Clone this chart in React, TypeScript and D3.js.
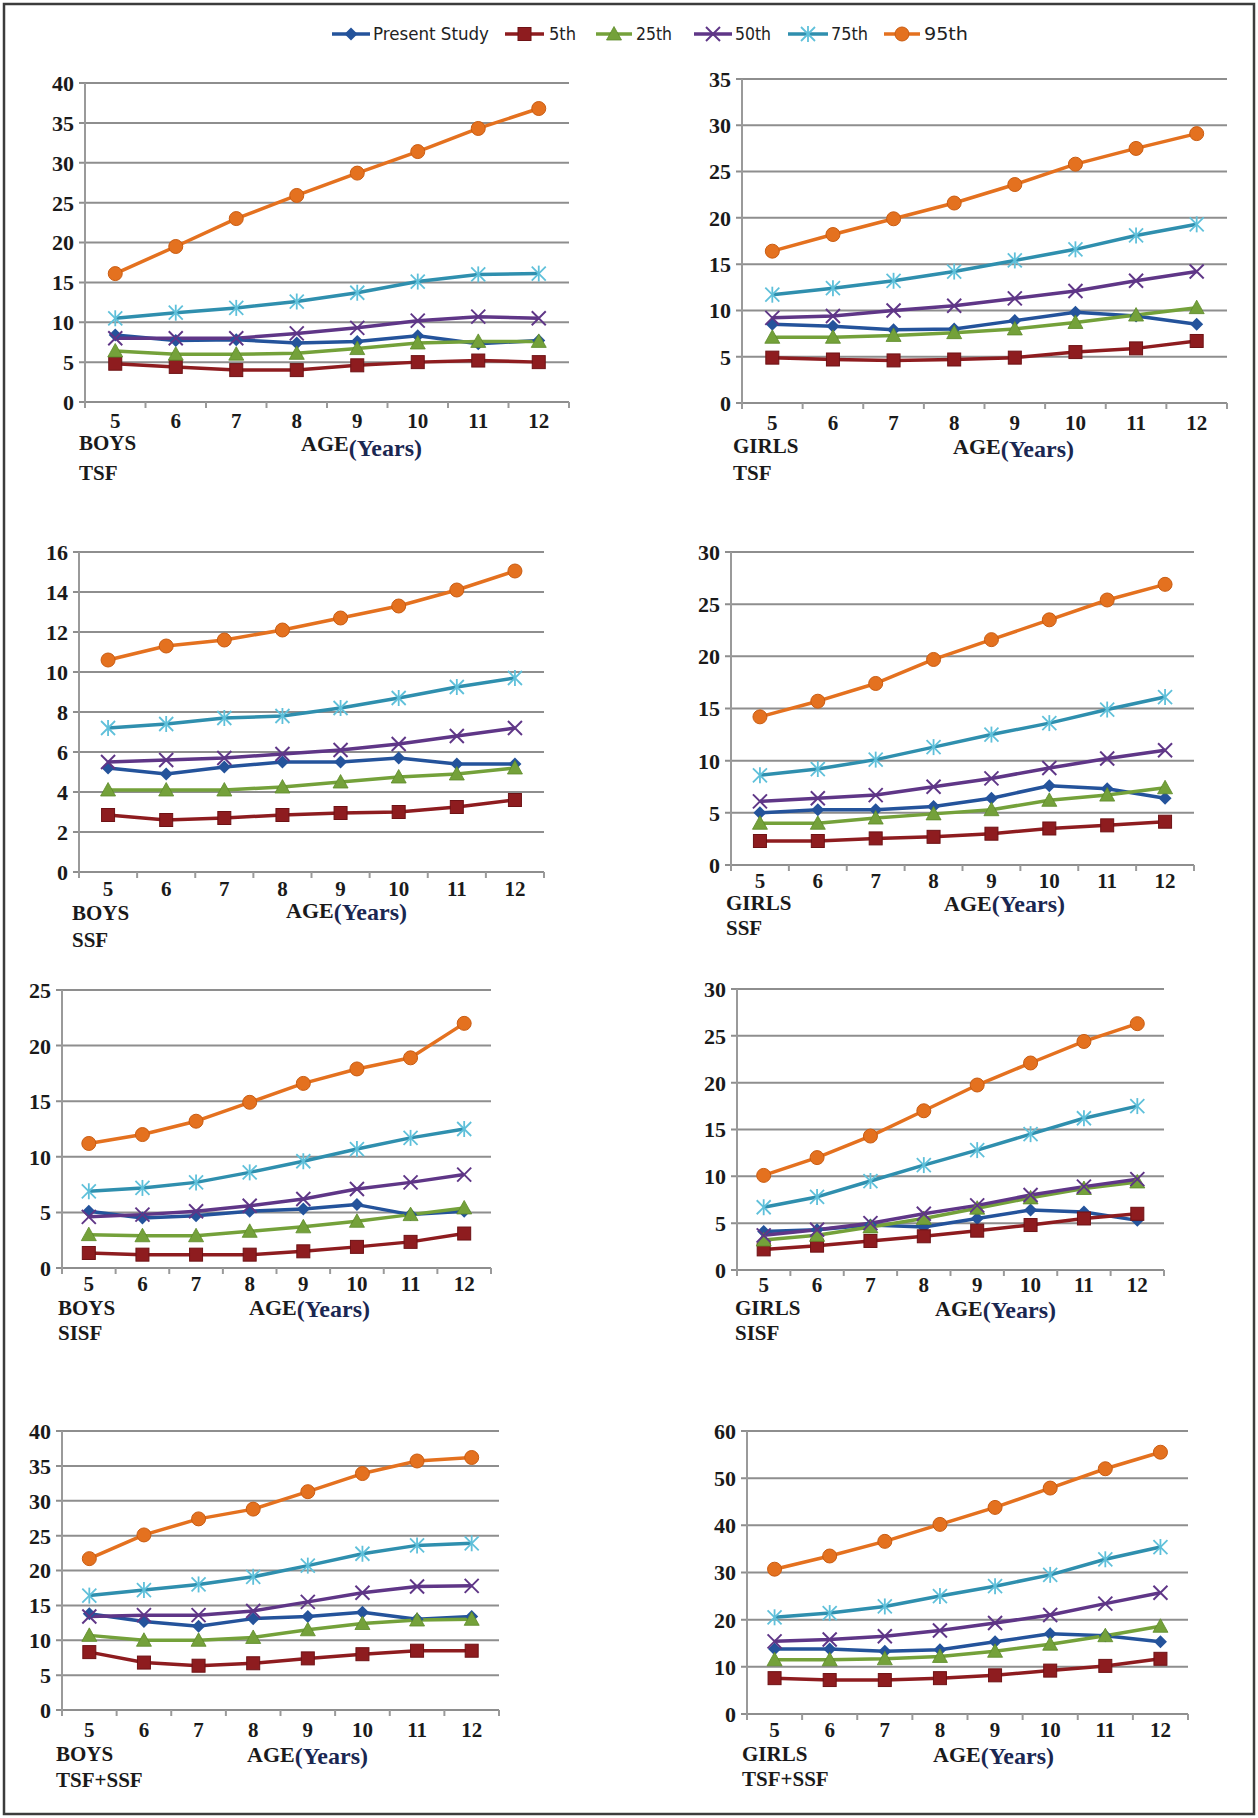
import * as d3 from "d3";

const ages = ["5", "6", "7", "8", "9", "10", "11", "12"];
const seriesNames = ["Present Study", "5th", "25th", "50th", "75th", "95th"];
const seriesColors = ["#24539b", "#8e1c1f", "#74a13a", "#5f3687", "#2f8fae", "#e4711f"];
const markerKinds = ["diamond", "square", "triangle", "cross", "star", "circle"];

// rows follow seriesNames: Present Study, 5th, 25th, 50th, 75th, 95th
const boysTSF = [
  [8.4, 7.7, 7.8, 7.4, 7.6, 8.3, 7.3, 7.7],
  [4.8, 4.4, 4.0, 4.0, 4.6, 5.0, 5.2, 5.0],
  [6.4, 6.0, 6.0, 6.1, 6.7, 7.4, 7.6, 7.6],
  [8.0, 8.0, 8.0, 8.6, 9.3, 10.2, 10.7, 10.5],
  [10.5, 11.2, 11.8, 12.6, 13.7, 15.1, 16.0, 16.1],
  [16.1, 19.5, 23.0, 25.9, 28.7, 31.4, 34.3, 36.8],
];
const girlsTSF = [
  [8.5, 8.3, 7.9, 8.0, 8.9, 9.8, 9.4, 8.5],
  [4.9, 4.7, 4.6, 4.7, 4.9, 5.5, 5.9, 6.7],
  [7.1, 7.1, 7.3, 7.6, 8.0, 8.7, 9.5, 10.3],
  [9.2, 9.4, 10.0, 10.5, 11.3, 12.1, 13.2, 14.2],
  [11.7, 12.4, 13.2, 14.2, 15.4, 16.6, 18.1, 19.3],
  [16.4, 18.2, 19.9, 21.6, 23.6, 25.8, 27.5, 29.1],
];
const boysSSF = [
  [5.2, 4.9, 5.25, 5.5, 5.5, 5.7, 5.4, 5.4],
  [2.85, 2.6, 2.7, 2.85, 2.95, 3.0, 3.25, 3.6],
  [4.1, 4.1, 4.1, 4.25, 4.5, 4.75, 4.9, 5.2],
  [5.5, 5.6, 5.7, 5.9, 6.1, 6.4, 6.8, 7.2],
  [7.2, 7.4, 7.7, 7.8, 8.2, 8.7, 9.25, 9.7],
  [10.6, 11.3, 11.6, 12.1, 12.7, 13.3, 14.1, 15.05],
];
const girlsSSF = [
  [5.0, 5.3, 5.3, 5.6, 6.4, 7.6, 7.3, 6.4],
  [2.3, 2.3, 2.55, 2.7, 3.0, 3.5, 3.8, 4.15],
  [4.0, 4.0, 4.5, 4.9, 5.3, 6.2, 6.7, 7.4],
  [6.1, 6.4, 6.7, 7.5, 8.3, 9.3, 10.2, 11.0],
  [8.6, 9.2, 10.1, 11.3, 12.5, 13.6, 14.9, 16.1],
  [14.2, 15.7, 17.4, 19.7, 21.6, 23.5, 25.4, 26.9],
];
const boysSISF = [
  [5.1, 4.5, 4.7, 5.1, 5.3, 5.7, 4.8, 5.1],
  [1.35, 1.2, 1.2, 1.2, 1.5, 1.9, 2.35, 3.1],
  [3.0, 2.9, 2.9, 3.3, 3.7, 4.2, 4.8, 5.4],
  [4.6, 4.8, 5.1, 5.6, 6.2, 7.1, 7.7, 8.4],
  [6.9, 7.2, 7.7, 8.6, 9.6, 10.7, 11.7, 12.5],
  [11.2, 12.0, 13.2, 14.9, 16.6, 17.9, 18.9, 22.0],
];
const girlsSISF = [
  [4.1, 4.3, 4.8, 4.6, 5.5, 6.4, 6.2, 5.3],
  [2.2, 2.6, 3.1, 3.6, 4.2, 4.8, 5.5, 6.0],
  [3.2, 3.7, 4.6, 5.5, 6.6, 7.7, 8.7, 9.4],
  [3.7, 4.3, 5.0, 6.0, 6.9, 8.0, 8.9, 9.7],
  [6.7, 7.8, 9.5, 11.2, 12.8, 14.5, 16.2, 17.5],
  [10.1, 12.0, 14.3, 17.0, 19.75, 22.1, 24.4, 26.3],
];
const boysTSFSSF = [
  [13.8, 12.7, 12.0, 13.1, 13.4, 14.0, 13.0, 13.4],
  [8.3, 6.8, 6.35, 6.7, 7.4, 8.0, 8.5, 8.5],
  [10.7, 10.0, 10.0, 10.4, 11.5, 12.4, 12.9, 13.0],
  [13.4, 13.6, 13.6, 14.2, 15.5, 16.8, 17.7, 17.8],
  [16.4, 17.2, 18.0, 19.1, 20.7, 22.4, 23.6, 23.9],
  [21.7, 25.1, 27.4, 28.8, 31.3, 33.9, 35.7, 36.2],
];
const girlsTSFSSF = [
  [13.8, 13.8, 13.3, 13.6, 15.3, 17.0, 16.6, 15.3],
  [7.6, 7.2, 7.2, 7.6, 8.2, 9.2, 10.2, 11.7],
  [11.5, 11.5, 11.7, 12.2, 13.3, 14.8, 16.6, 18.6],
  [15.4, 15.8, 16.5, 17.7, 19.3, 21.0, 23.4, 25.7],
  [20.5, 21.4, 22.8, 25.0, 27.1, 29.5, 32.8, 35.4],
  [30.7, 33.5, 36.6, 40.2, 43.8, 47.9, 52.0, 55.5],
];

// frame of each small chart and where its captions sit
const panels = [
  { data: boysTSF, sex: "BOYS", site: "TSF", max: 40, step: 5, x0: 85, x1: 569, yTop: 83, y0: 402, tickY: 428, nameX: 79, nameY: 450, siteY: 480, ageX: 301, ageY: 451, yearsY: 456 },
  { data: girlsTSF, sex: "GIRLS", site: "TSF", max: 35, step: 5, x0: 742, x1: 1227, yTop: 79, y0: 403, tickY: 430, nameX: 733, nameY: 453, siteY: 480, ageX: 953, ageY: 454, yearsY: 457 },
  { data: boysSSF, sex: "BOYS", site: "SSF", max: 16, step: 2, x0: 79, x1: 544, yTop: 552, y0: 872, tickY: 896, nameX: 72, nameY: 920, siteY: 947, ageX: 286, ageY: 918, yearsY: 920 },
  { data: girlsSSF, sex: "GIRLS", site: "SSF", max: 30, step: 5, x0: 731, x1: 1194, yTop: 552, y0: 865, tickY: 888, nameX: 726, nameY: 910, siteY: 935, ageX: 944, ageY: 911, yearsY: 912 },
  { data: boysSISF, sex: "BOYS", site: "SISF", max: 25, step: 5, x0: 62, x1: 491, yTop: 990, y0: 1268, tickY: 1291, nameX: 58, nameY: 1315, siteY: 1340, ageX: 249, ageY: 1315, yearsY: 1317 },
  { data: girlsSISF, sex: "GIRLS", site: "SISF", max: 30, step: 5, x0: 737, x1: 1164, yTop: 989, y0: 1270, tickY: 1292, nameX: 735, nameY: 1315, siteY: 1340, ageX: 935, ageY: 1316, yearsY: 1318 },
  { data: boysTSFSSF, sex: "BOYS", site: "TSF+SSF", max: 40, step: 5, x0: 62, x1: 499, yTop: 1431, y0: 1710, tickY: 1737, nameX: 56, nameY: 1761, siteY: 1787, ageX: 247, ageY: 1762, yearsY: 1764 },
  { data: girlsTSFSSF, sex: "GIRLS", site: "TSF+SSF", max: 60, step: 10, x0: 747, x1: 1188, yTop: 1431, y0: 1714, tickY: 1737, nameX: 742, nameY: 1761, siteY: 1786, ageX: 933, ageY: 1762, yearsY: 1764 },
];

const legendSlots = [
  { x1: 332, x2: 370, tx: 373, tw: 116 },
  { x1: 505, x2: 544, tx: 549, tw: 27 },
  { x1: 596, x2: 632, tx: 636, tw: 36 },
  { x1: 694, x2: 732, tx: 735, tw: 36 },
  { x1: 788, x2: 828, tx: 831, tw: 37 },
  { x1: 884, x2: 920, tx: 924, tw: 44 },
];

const serif = "'Liberation Serif', 'Times New Roman', serif";
const narrow = "'Liberation Sans Narrow', 'DejaVu Sans Condensed', sans-serif";
const gridColor = "#8e8e8e";

function Marker({ kind, x, y, color }: { kind: string; x: number; y: number; color: string }) {
  if (kind === "circle") {
    return <circle cx={x} cy={y} r={7} fill={color} stroke="#c95c12" strokeWidth={1} />;
  }
  if (kind === "square") {
    return <rect x={x - 6.5} y={y - 6.5} width={13} height={13} fill={color} stroke="#6e1215" strokeWidth={1} />;
  }
  if (kind === "triangle") {
    return <path d={`M${x},${y - 7.5}L${x + 7.5},${y + 6}L${x - 7.5},${y + 6}Z`} fill={color} stroke="#5d8a28" strokeWidth={0.8} />;
  }
  if (kind === "diamond") {
    return <path d={`M${x},${y - 6.5}L${x + 6.5},${y}L${x},${y + 6.5}L${x - 6.5},${y}Z`} fill={color} />;
  }
  if (kind === "cross") {
    const s = 7;
    return (
      <g stroke={color} strokeWidth={2}>
        <line x1={x - s} y1={y - s} x2={x + s} y2={y + s} />
        <line x1={x - s} y1={y + s} x2={x + s} y2={y - s} />
      </g>
    );
  }
  const s = 7;
  return (
    <g stroke="#5fc0da" strokeWidth={1.8}>
      <line x1={x - s} y1={y - s} x2={x + s} y2={y + s} />
      <line x1={x - s} y1={y + s} x2={x + s} y2={y - s} />
      <line x1={x} y1={y - s - 1} x2={x} y2={y + s + 1} />
    </g>
  );
}

function Panel({ p }: { p: (typeof panels)[number] }) {
  const x = d3.scaleBand<string>().domain(ages).range([p.x0, p.x1]);
  const y = d3.scaleLinear().domain([0, p.max]).range([p.y0, p.yTop]);
  const yTicks = d3.range(0, p.max + 0.001, p.step);
  const cx = (a: string) => (x(a) ?? 0) + x.bandwidth() / 2;
  const line = d3
    .line<number>()
    .x((_, i) => cx(ages[i]))
    .y((d) => y(d));
  const bounds = ages.map((a) => x(a) ?? 0).concat([p.x1]);

  return (
    <g>
      {yTicks.map((t) => (
        <line key={t} x1={p.x0 - 6} x2={p.x1} y1={y(t)} y2={y(t)} stroke={gridColor} strokeWidth={2} />
      ))}
      <line x1={p.x0} x2={p.x0} y1={p.yTop} y2={p.y0} stroke="#9a9a9a" strokeWidth={2} />
      {bounds.map((b, i) => (
        <line key={i} x1={b} x2={b} y1={p.y0} y2={p.y0 + 6} stroke="#9a9a9a" strokeWidth={2} />
      ))}
      {yTicks.map((t) => (
        <text key={t} x={p.x0 - 11} y={y(t)} dy="0.36em" textAnchor="end" fontFamily={serif} fontWeight="bold" fontSize={22} fill="#1a1a1a">
          {t}
        </text>
      ))}
      {p.data.map((vals, si) => (
        <path key={si} d={line(vals) ?? ""} fill="none" stroke={seriesColors[si]} strokeWidth={3.5} strokeLinejoin="round" />
      ))}
      {p.data.map((vals, si) => (
        <g key={si}>
          {vals.map((v, i) => (
            <Marker key={i} kind={markerKinds[si]} x={cx(ages[i])} y={y(v)} color={seriesColors[si]} />
          ))}
        </g>
      ))}
      {ages.map((a) => (
        <text key={a} x={cx(a)} y={p.tickY} textAnchor="middle" fontFamily={serif} fontWeight="bold" fontSize={21} fill="#1a1a1a">
          {a}
        </text>
      ))}
      <text x={p.nameX} y={p.nameY} fontFamily={serif} fontWeight="bold" fontSize={21} fill="#1a1a1a">
        {p.sex}
      </text>
      <text x={p.nameX} y={p.siteY} fontFamily={serif} fontWeight="bold" fontSize={21} fill="#1a1a1a">
        {p.site}
      </text>
      <text x={p.ageX} y={p.ageY} fontFamily={serif} fontWeight="bold" fontSize={22} fill="#1a1a1a">
        AGE
        <tspan dy={p.yearsY - p.ageY} fontWeight="bold" fontSize={24} fill="#1a2752">
          (Years)
        </tspan>
      </text>
    </g>
  );
}

export default function App() {
  return (
    <svg width={1258} height={1818} style={{ position: "absolute", left: 0, top: 0, background: "#fff" }}>
      <rect x={0} y={0} width={1258} height={1818} fill="#fff" />
      <rect x={4} y={4} width={1250} height={1810} fill="none" stroke="#3c3c3c" strokeWidth={2.5} />
      <g>
        {seriesNames.map((name, i) => {
          const s = legendSlots[i];
          const mid = (s.x1 + s.x2) / 2;
          return (
            <g key={name}>
              <line x1={s.x1} x2={s.x2} y1={34} y2={34} stroke={seriesColors[i]} strokeWidth={3.5} />
              <Marker kind={markerKinds[i]} x={mid} y={34} color={seriesColors[i]} />
              <text x={s.tx} y={40} fontFamily={narrow} fontSize={17} fill="#222" textLength={s.tw} lengthAdjust="spacingAndGlyphs">
                {name}
              </text>
            </g>
          );
        })}
      </g>
      {panels.map((p, i) => (
        <Panel key={i} p={p} />
      ))}
    </svg>
  );
}
